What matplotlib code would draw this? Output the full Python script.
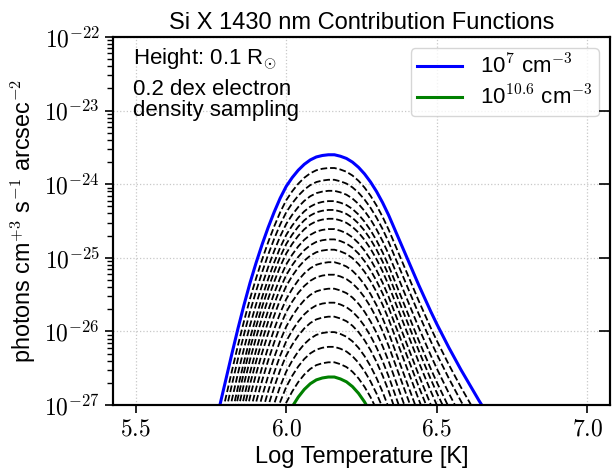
import numpy as np
import matplotlib
matplotlib.use('Agg')
import matplotlib.pyplot as plt
from matplotlib.ticker import FuncFormatter, LogLocator, NullLocator, NullFormatter

plt.rcParams['font.family'] = ['Liberation Sans', 'DejaVu Sans']
plt.rcParams['mathtext.fontset'] = 'cm'
plt.rcParams['axes.linewidth'] = 1.5

# log temperature grid and the 10^7 cm^-3 curve (log10 of the contribution function)
log_t = [5.70, 5.72, 5.74, 5.76, 5.78, 5.80, 5.82, 5.84, 5.86, 5.88, 5.90, 5.92, 5.94,
         5.96, 5.98, 6.00, 6.02, 6.04, 6.06, 6.08, 6.10, 6.12, 6.14, 6.16, 6.18, 6.20,
         6.22, 6.24, 6.26, 6.28, 6.30, 6.32, 6.34, 6.36, 6.38, 6.40, 6.42, 6.44, 6.46,
         6.48, 6.50, 6.52, 6.54, 6.56, 6.58, 6.60, 6.62, 6.64, 6.66, 6.68, 6.70]
log_g_low = [-28.40, -28.05, -27.70, -27.35, -27.00, -26.65, -26.30, -25.96, -25.64,
             -25.34, -25.07, -24.82, -24.59, -24.38, -24.19, -24.03, -23.91, -23.81,
             -23.73, -23.67, -23.63, -23.61, -23.60, -23.60, -23.62, -23.65, -23.70,
             -23.77, -23.86, -23.97, -24.10, -24.25, -24.42, -24.61, -24.80, -24.99,
             -25.18, -25.37, -25.55, -25.73, -25.90, -26.06, -26.22, -26.37, -26.52,
             -26.66, -26.80, -26.94, -27.07, -27.21, -27.35]

# electron densities, 0.2 dex sampling
log_ne = [7.0, 7.2, 7.4, 7.6, 7.8, 8.0, 8.2, 8.4, 8.6, 8.8, 9.0, 9.2, 9.4, 9.6, 9.8,
          10.0, 10.2, 10.4, 10.6]
# peak value of each curve (log10) and how much narrower it is than the 10^7 curve
log_peak = [-23.60, -23.78, -23.94, -24.09, -24.23, -24.35, -24.47, -24.61, -24.75,
            -24.89, -25.06, -25.23, -25.42, -25.61, -25.80, -26.01, -26.21, -26.42, -26.62]
narrow = [1.00, 1.02, 1.03, 1.05, 1.07, 1.08, 1.10, 1.12, 1.13, 1.15, 1.17, 1.18, 1.20,
          1.22, 1.23, 1.25, 1.27, 1.28, 1.30]

fig = plt.figure(figsize=(6.15, 4.75), dpi=100)
ax = fig.add_axes([0.1837, 0.1474, 0.8082, 0.7747])

t = np.array(log_t)
drop = max(log_g_low) - np.array(log_g_low)

for i in range(len(log_ne)):
    g = 10 ** (log_peak[i] - narrow[i] * drop)
    if i == 0:
        ax.plot(t, g, color='#0000ff', lw=2.2, label=r'10$^{7}$ cm$^{-3}$', zorder=3)
    elif i == len(log_ne) - 1:
        ax.plot(t, g, color='#008000', lw=2.2, label=r'10$^{10.6}$ cm$^{-3}$', zorder=3)
    else:
        ax.plot(t, g, 'k--', lw=1.3, zorder=2)

ax.set_yscale('log')
ax.set_ylim(1e-27, 1e-22)
ax.set_xlim(5.425, 7.075)
ax.set_xticks([5.5, 6.0, 6.5, 7.0])
ax.xaxis.set_major_formatter(FuncFormatter(lambda v, p: r'$%.1f$' % v))
ax.yaxis.set_major_locator(LogLocator(base=10, numticks=10))
ax.yaxis.set_major_formatter(FuncFormatter(lambda v, p: r'$10^{%d}$' % round(np.log10(v))))
ax.tick_params(axis='both', which='major', labelsize=17, direction='out', length=6, width=1.2)
ax.tick_params(axis='y', which='minor', direction='out', length=4, width=1.0)
ax.grid(True, which='major', ls=':', color='#c8c8c8', lw=0.9)

# right side: major ticks only, pointing in
ax2 = ax.twinx()
ax2.set_yscale('log')
ax2.set_ylim(1e-27, 1e-22)
ax2.yaxis.set_major_locator(LogLocator(base=10, numticks=10))
ax2.yaxis.set_minor_locator(NullLocator())
ax2.yaxis.set_major_formatter(NullFormatter())
ax2.tick_params(axis='y', direction='in', length=8, width=1.2)

ax.set_title('Si X 1430 nm Contribution Functions', fontsize=17, pad=6)
ax.set_xlabel('Log Temperature [K]', fontsize=17)
ax.set_ylabel(r'photons cm$^{+3}$ s$^{-1}$ arcsec$^{-2}$', fontsize=16.8)

ax.text(0.04, 0.975, r'Height: 0.1 R$_{\odot}$', transform=ax.transAxes,
        fontsize=16, va='top', ha='left')
ax.text(0.04, 0.885, '0.2 dex electron\ndensity sampling', transform=ax.transAxes,
        fontsize=16, va='top', ha='left', linespacing=1.0)

ax.legend(loc='upper right', fontsize=16, labelspacing=0.3, borderpad=0.3,
          borderaxespad=0.5)

fig.savefig('out.png', dpi=100)
